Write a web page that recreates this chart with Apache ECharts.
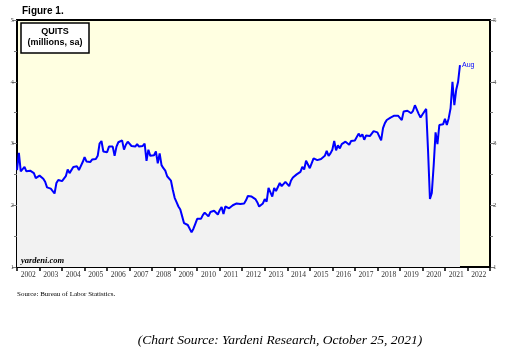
<!DOCTYPE html>
<html><head><meta charset="utf-8">
<script src="https://cdn.jsdelivr.net/npm/echarts@6/dist/echarts.min.js"></script>
<style>html,body{margin:0;padding:0;background:#fff}#c{width:510px;height:355px}</style>
</head><body><div id="c"></div>
<script>
// Monthly quits (millions, sa), Dec 2001 .. Aug 2021
const q2001Dec = [2.57];
const q2002 = [2.85, 2.55, 2.55, 2.62, 2.55, 2.54, 2.56, 2.56, 2.52, 2.44, 2.42, 2.48];
const q2003 = [2.47, 2.43, 2.38, 2.29, 2.30, 2.27, 2.25, 2.19, 2.36, 2.41, 2.42, 2.39];
const q2004 = [2.42, 2.47, 2.58, 2.52, 2.50, 2.62, 2.60, 2.63, 2.57, 2.56, 2.70, 2.78];
const q2005 = [2.71, 2.72, 2.70, 2.74, 2.76, 2.75, 2.80, 3.00, 3.04, 2.87, 2.88, 2.86];
const q2006 = [2.95, 2.95, 2.95, 2.80, 2.95, 3.02, 3.05, 3.05, 2.90, 2.98, 3.03, 3.00];
const q2007 = [2.96, 2.97, 2.95, 2.99, 2.95, 2.95, 2.96, 3.00, 2.72, 2.90, 2.80, 2.78];
const q2008 = [2.81, 2.87, 2.68, 2.84, 2.65, 2.60, 2.56, 2.47, 2.45, 2.40, 2.25, 2.12];
const q2009 = [2.05, 1.98, 1.93, 1.82, 1.71, 1.68, 1.68, 1.66, 1.56, 1.62, 1.70, 1.78];
const q2010 = [1.80, 1.78, 1.84, 1.88, 1.88, 1.82, 1.89, 1.86, 1.91, 1.88, 1.85, 1.92];
const q2011 = [1.97, 1.86, 1.98, 1.95, 1.95, 1.97, 2.00, 2.03, 2.03, 2.01, 2.02, 2.00];
const q2012 = [2.03, 2.08, 2.15, 2.14, 2.14, 2.13, 2.10, 2.05, 1.98, 2.00, 2.03, 2.10];
const q2013 = [2.06, 2.28, 2.27, 2.14, 2.28, 2.23, 2.25, 2.36, 2.31, 2.33, 2.38, 2.37];
const q2014 = [2.31, 2.40, 2.45, 2.47, 2.50, 2.52, 2.54, 2.62, 2.58, 2.72, 2.70, 2.60];
const q2015 = [2.58, 2.76, 2.74, 2.73, 2.73, 2.75, 2.77, 2.80, 2.88, 2.80, 2.84, 2.90];
const q2016 = [3.04, 2.89, 2.97, 2.92, 2.99, 2.97, 3.03, 3.00, 2.98, 3.04, 3.02, 3.05];
const q2017 = [3.06, 3.16, 3.11, 3.15, 3.06, 3.13, 3.15, 3.12, 3.13, 3.20, 3.18, 3.18];
const q2018 = [3.15, 3.05, 3.25, 3.33, 3.38, 3.40, 3.42, 3.45, 3.45, 3.44, 3.45, 3.43];
const q2019 = [3.38, 3.52, 3.55, 3.53, 3.50, 3.49, 3.53, 3.62, 3.60, 3.48, 3.42, 3.47];
const q2020 = [3.49, 3.56, 2.88, 2.10, 2.20, 2.65, 3.18, 2.99, 3.30, 3.33, 3.31, 3.40];
const q2021 = [3.30, 3.41, 3.57, 4.00, 3.62, 3.87, 4.00, 4.27];

const yearLabels = ['2002','2003','2004','2005','2006','2007','2008','2009','2010','2011','2012',
  '2013','2014','2015','2016','2017','2018','2019','2020','2021','2022'];
const lastLabel = 'Aug';

const quits = [].concat(q2001Dec, q2002, q2003, q2004, q2005, q2006, q2007, q2008, q2009, q2010,
  q2011, q2012, q2013, q2014, q2015, q2016, q2017, q2018, q2019, q2020, q2021);
// month-end positions: index 0 = Dec 2001 (end) = 2002.0
const seriesData = quits.map((v, i) => [2002 + i / 12, v]);

const chart = echarts.init(document.getElementById('c'), null, {renderer: 'canvas'});
const serif = '"Liberation Serif", "Times New Roman", serif';
const sans = '"Liberation Sans", Arial, sans-serif';
chart.setOption({
  animation: false,
  backgroundColor: '#ffffff',
  grid: {left: 17, right: 20, top: 20, bottom: 88, show: true, backgroundColor: '#FFFFE1',
         borderColor: '#000', borderWidth: 2},
  xAxis: [
    {type: 'value', min: 2002, max: 2023, interval: 1, position: 'bottom',
     axisLine: {show: true, lineStyle: {color: '#000', width: 2}},
     axisTick: {show: true, length: 4, lineStyle: {color: '#000', width: 1.5}},
     axisLabel: {show: false}, splitLine: {show: false}},
    {type: 'category', data: yearLabels, position: 'bottom', boundaryGap: true,
     axisLine: {show: false}, axisTick: {show: false}, splitLine: {show: false},
     axisLabel: {show: true, interval: 0, margin: 4, fontFamily: serif, fontSize: 7.5, color: '#333'}}
  ],
  yAxis: [
    {type: 'value', min: 1, max: 5, interval: 1, position: 'left',
     axisLine: {show: true, lineStyle: {color: '#000', width: 2}},
     axisTick: {show: true, length: 5, lineStyle: {color: '#777', width: 1}},
     minorTick: {show: true, splitNumber: 2, length: 3, lineStyle: {color: '#777', width: 1}},
     axisLabel: {margin: 3, fontFamily: serif, fontSize: 7, color: '#555'},
     splitLine: {show: false}},
    {type: 'value', min: 1, max: 5, interval: 1, position: 'right',
     axisLine: {show: true, lineStyle: {color: '#000', width: 2}},
     axisTick: {show: true, length: 5, lineStyle: {color: '#777', width: 1}},
     minorTick: {show: true, splitNumber: 2, length: 3, lineStyle: {color: '#777', width: 1}},
     axisLabel: {margin: 3, fontFamily: serif, fontSize: 7, color: '#555'},
     splitLine: {show: false}}
  ],
  series: [{
    type: 'line', xAxisIndex: 0, yAxisIndex: 0, data: seriesData, showSymbol: false,
    lineStyle: {color: '#0000FF', width: 2}, itemStyle: {color: '#0000FF'},
    areaStyle: {color: '#F2F2F2', origin: 'start', opacity: 1},
    endLabel: {show: true, formatter: lastLabel, color: '#0000FF', fontFamily: sans, fontSize: 7, distance: 2, offset: [0, 0]}
  }],
  graphic: [
    {type: 'text', left: 22, top: 6, style: {text: 'Figure 1.', fontFamily: sans, fontWeight: 'bold', fontSize: 10, fill: '#000'}},
    {type: 'rect', shape: {x: 21, y: 23, width: 68, height: 30}, style: {fill: '#fff', stroke: '#000', lineWidth: 1.5}, z: 100},
    {type: 'text', x: 55, y: 27, style: {text: 'QUITS', fontFamily: sans, fontWeight: 'bold', fontSize: 9, fill: '#000', align: 'center'}, z: 101},
    {type: 'text', x: 55, y: 38, style: {text: '(millions, sa)', fontFamily: sans, fontWeight: 'bold', fontSize: 9, fill: '#000', align: 'center'}, z: 101},
    {type: 'text', x: 21, y: 256, style: {text: 'yardeni.com', fontFamily: serif, fontWeight: 'bold', fontStyle: 'italic', fontSize: 8.5, fill: '#000'}, z: 101},
    {type: 'text', x: 17, y: 291, style: {text: 'Source: Bureau of Labor Statistics.', fontFamily: serif, fontSize: 7, fill: '#000'}},
    {type: 'text', x: 280, y: 333, style: {text: '(Chart Source: Yardeni Research, October 25, 2021)', fontFamily: serif, fontStyle: 'italic', fontSize: 13.5, fill: '#000', align: 'center'}}
  ]
});
</script></body></html>
